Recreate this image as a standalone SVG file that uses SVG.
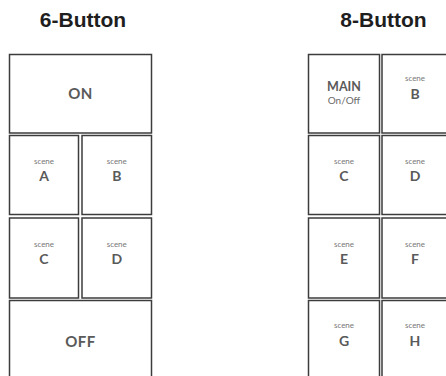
<svg xmlns="http://www.w3.org/2000/svg" width="446" height="376" viewBox="0 0 446 376">
<style>
.title{font-family:"Liberation Sans",Arial,sans-serif;font-weight:bold;font-size:21px;fill:#1e1e1e;text-anchor:middle}
.btn{fill:#fff;stroke:#3c3c3c;stroke-width:1.5}
.sc{font-family:Lato,"Open Sans",sans-serif;font-size:8px;fill:#777;text-anchor:middle}
.lt{font-family:Lato,"Open Sans",sans-serif;font-weight:bold;font-size:14px;fill:#5a5a5a;text-anchor:middle}
.big{font-family:Lato,"Open Sans",sans-serif;font-weight:bold;font-size:15px;fill:#5a5a5a;text-anchor:middle;letter-spacing:0.5px}
.main{font-family:Lato,"Open Sans",sans-serif;font-weight:bold;font-size:12.5px;fill:#5a5a5a;text-anchor:middle}
.onoff{font-family:Lato,"Open Sans",sans-serif;font-size:10px;fill:#6a6a6a;text-anchor:middle}
</style>
<rect width="446" height="376" fill="#fff"/>
<text class="title" x="83" y="27">6-Button</text>
<text class="title" x="383.5" y="27">8-Button</text>
<g id="six-on"><rect class="btn" x="9.5" y="54.5" width="142" height="78.5"/><text class="big" x="80.5" y="99">ON</text></g>
<g id="six-a"><rect class="btn" x="9.5" y="135.5" width="69" height="79"/><text class="sc" x="44" y="164">scene</text><text class="lt" x="44" y="181">A</text></g>
<g id="six-b"><rect class="btn" x="82" y="135.5" width="69.5" height="79"/><text class="sc" x="116.75" y="164">scene</text><text class="lt" x="116.75" y="181">B</text></g>
<g id="six-c"><rect class="btn" x="9.5" y="218" width="69" height="80"/><text class="sc" x="44" y="246.5">scene</text><text class="lt" x="44" y="264">C</text></g>
<g id="six-d"><rect class="btn" x="82" y="218" width="69.5" height="80"/><text class="sc" x="116.75" y="246.5">scene</text><text class="lt" x="116.75" y="264">D</text></g>
<g id="six-off"><rect class="btn" x="9.5" y="300.5" width="142" height="80"/><text class="big" x="80.5" y="346.5">OFF</text></g>
<g id="eight-main"><rect class="btn" x="308.5" y="54.5" width="71" height="78.5"/><text class="main" x="344" y="91">MAIN</text><text class="onoff" x="344" y="104">On/Off</text></g>
<g id="eight-b"><rect class="btn" x="382" y="54.5" width="70" height="78.5"/><text class="sc" x="415" y="81">scene</text><text class="lt" x="415" y="99">B</text></g>
<g id="eight-c"><rect class="btn" x="308.5" y="135.5" width="71" height="79"/><text class="sc" x="344" y="164">scene</text><text class="lt" x="344" y="181">C</text></g>
<g id="eight-d"><rect class="btn" x="382" y="135.5" width="70" height="79"/><text class="sc" x="415" y="164">scene</text><text class="lt" x="415" y="181">D</text></g>
<g id="eight-e"><rect class="btn" x="308.5" y="218" width="71" height="80"/><text class="sc" x="344" y="246.5">scene</text><text class="lt" x="344" y="264">E</text></g>
<g id="eight-f"><rect class="btn" x="382" y="218" width="70" height="80"/><text class="sc" x="415" y="246.5">scene</text><text class="lt" x="415" y="264">F</text></g>
<g id="eight-g"><rect class="btn" x="308.5" y="300.5" width="71" height="80"/><text class="sc" x="344" y="328">scene</text><text class="lt" x="344" y="345.5">G</text></g>
<g id="eight-h"><rect class="btn" x="382" y="300.5" width="70" height="80"/><text class="sc" x="415" y="328">scene</text><text class="lt" x="415" y="345.5">H</text></g>
<g id="connectors"/>
</svg>
